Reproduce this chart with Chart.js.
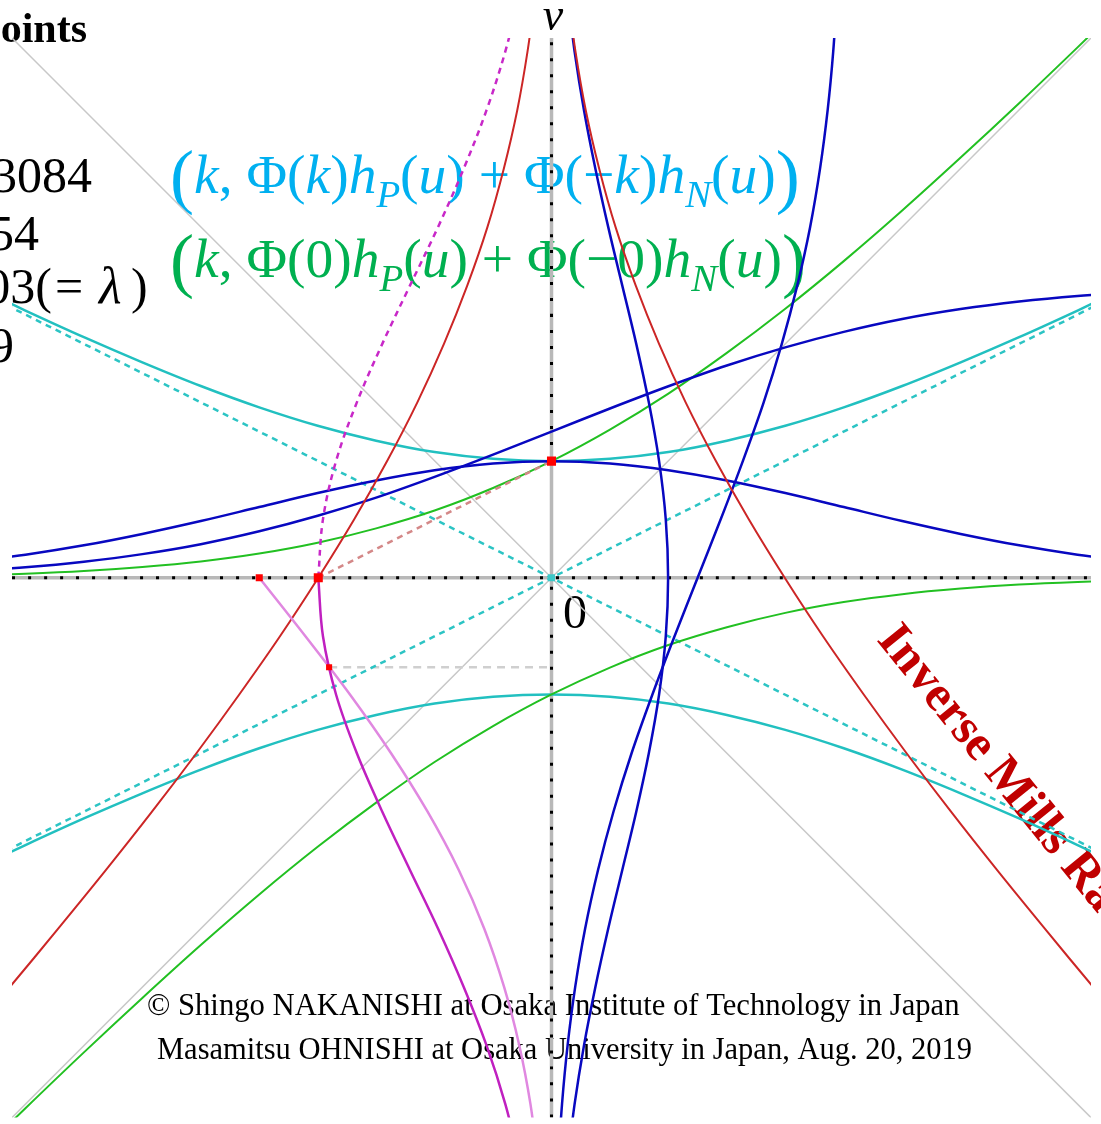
<!DOCTYPE html>
<html>
<head>
<meta charset="utf-8">
<script src="https://cdn.jsdelivr.net/npm/chart.js@4.4.0/dist/chart.umd.min.js"></script>
<style>
  html, body { margin: 0; padding: 0; background: #fff; }
  #wrap { width: 1101px; height: 1124px; }
</style>
</head>
<body>
<div id="wrap"><canvas id="chart" width="1101" height="1124"></canvas></div>
<script>
// sample positions (used as u for the flat curves, as v for the upright ones)
const uGrid = [-2.0, -1.8, -1.6, -1.4, -1.2, -1.0, -0.8, -0.6, -0.4, -0.2, 0, 0.2, 0.4, 0.6, 0.8, 1.0, 1.2, 1.4, 1.6, 1.8, 2.0];

// blue: density and distribution
const pdfVals = [0.054, 0.079, 0.111, 0.150, 0.194, 0.242, 0.290, 0.333, 0.368, 0.391, 0.399, 0.391, 0.368, 0.333, 0.290, 0.242, 0.194, 0.150, 0.111, 0.079, 0.054];
const cdfVals = [0.023, 0.036, 0.055, 0.081, 0.115, 0.159, 0.212, 0.274, 0.345, 0.421, 0.500, 0.579, 0.655, 0.726, 0.788, 0.841, 0.885, 0.919, 0.945, 0.964, 0.977];

// green: h_P(u) and h_N(u)
const hPosVals = [0.008, 0.014, 0.023, 0.037, 0.056, 0.083, 0.120, 0.169, 0.230, 0.307, 0.399, 0.507, 0.630, 0.769, 0.920, 1.083, 1.256, 1.437, 1.623, 1.814, 2.008];
const hNegVals = [-2.008, -1.814, -1.623, -1.437, -1.256, -1.083, -0.920, -0.769, -0.630, -0.507, -0.399, -0.307, -0.230, -0.169, -0.120, -0.083, -0.056, -0.037, -0.023, -0.014, -0.008];

// cyan: mixed curves above and below
const hMixUpper = [1.008, 0.914, 0.823, 0.737, 0.656, 0.583, 0.520, 0.469, 0.430, 0.407, 0.399, 0.407, 0.430, 0.469, 0.520, 0.583, 0.656, 0.737, 0.823, 0.914, 1.008];
const hMixLower = [-1.008, -0.914, -0.823, -0.737, -0.656, -0.583, -0.520, -0.469, -0.430, -0.407, -0.399, -0.407, -0.430, -0.469, -0.520, -0.583, -0.656, -0.737, -0.823, -0.914, -1.008];

// red: inverse Mills ratio, plotted sideways
const millsRight = [2.373, 2.197, 2.024, 1.854, 1.688, 1.525, 1.367, 1.215, 1.069, 0.929, 0.798, 0.675, 0.562, 0.459, 0.368, 0.288, 0.219, 0.163, 0.117, 0.082, 0.055];
const millsLeft = [-2.373, -2.197, -2.024, -1.854, -1.688, -1.525, -1.367, -1.215, -1.069, -0.929, -0.798, -0.675, -0.562, -0.459, -0.368, -0.288, -0.219, -0.163, -0.117, -0.082, -0.055];

// magenta (dashed above the u axis, solid below) and pink (below only)
const twoPdfLeft = [-0.108, -0.158, -0.222, -0.300, -0.388, -0.484, -0.579, -0.666, -0.737, -0.782, -0.798, -0.782, -0.737, -0.666, -0.579, -0.484, -0.388, -0.300, -0.222, -0.158, -0.108];
const twoCdfLeft = [-0.046, -0.072, -0.110, -0.162, -0.230, -0.317, -0.424, -0.549, -0.689, -0.842, -1.000];

// straight guides
const edgeU = [-2, 2];
const diagRise = [-2, 2];
const diagFall = [2, -2];
const asymRise = [-1, 1];
const asymFall = [1, -1];
const tangentU = [-0.798, 0];
const tangentV = [0, 0.399];
const guideU = [-0.761, 0];
const guideV = [-0.306, -0.306];
const axisLo = [-1.846, 0];
const axisHi = [0.399, 1.846];

// marked points
const markU = [-0.798, 0, -1.0, -0.761];
const markV = [0, 0.399, 0, -0.306];

const AX = 1.846;

function pts(xs, ys) {
  return xs.map((x, i) => ({ x: x, y: ys[i] }));
}

function curve(data, color, width, dash) {
  return {
    data: data,
    showLine: true,
    borderColor: color,
    borderWidth: width,
    borderDash: dash || [],
    pointRadius: 0,
    pointHoverRadius: 0,
    tension: 0.35,
    fill: false
  };
}

const negHalf = uGrid.slice(0, 11);
const posHalf = uGrid.slice(10);

// listed bottom to top
const datasets = [
  curve(pts(edgeU, diagRise), '#c8c8c8', 1.5),
  curve(pts(edgeU, diagFall), '#c8c8c8', 1.5),
  curve(pts([-AX, AX], [0, 0]), '#b8b8b8', 3.5),
  curve(pts([0, 0], [-AX, AX]), '#b8b8b8', 3.5),
  curve(pts([-AX, AX], [0, 0]), '#000000', 3, [3, 13]),
  curve(pts([0, 0], axisLo), '#000000', 3, [3, 13]),
  curve(pts([0, 0], axisHi), '#000000', 3, [3, 13]),
  curve(pts(guideU, guideV), '#cfcfcf', 2.5, [8, 6]),
  curve(pts(edgeU, asymRise), '#2cc4c4', 2.5, [6, 5]),
  curve(pts(edgeU, asymFall), '#2cc4c4', 2.5, [6, 5]),
  curve(pts(uGrid, hMixUpper), '#22c0c0', 2.5),
  curve(pts(uGrid, hMixLower), '#22c0c0', 2.5),
  curve(pts(uGrid, hPosVals), '#22c022', 2),
  curve(pts(uGrid, hNegVals), '#22c022', 2),
  curve(pts(tangentU, tangentV), '#d48888', 2.5, [6, 5]),
  curve(pts(uGrid, pdfVals), '#0808c0', 2.5),
  curve(pts(uGrid, cdfVals), '#0808c0', 2.5),
  curve(pts(pdfVals, uGrid), '#0808c0', 2.5),
  curve(pts(cdfVals, uGrid), '#0808c0', 2.5),
  curve(pts(millsLeft, uGrid), '#cc2626', 2),
  curve(pts(millsRight, uGrid), '#cc2626', 2),
  curve(pts(twoCdfLeft, negHalf), '#e088e0', 2.5),
  curve(pts(twoPdfLeft.slice(0, 11), negHalf), '#c020c0', 2.5),
  curve(pts(twoPdfLeft.slice(10), posHalf), '#c828c8', 2.5, [6, 5]),
  {
    data: pts([0], [0]),
    showLine: false,
    pointStyle: 'rect',
    pointRadius: 5,
    pointBackgroundColor: '#3cc8c8',
    pointBorderWidth: 0
  },
  {
    data: pts(markU, markV),
    showLine: false,
    pointStyle: 'rect',
    pointRadius: [6.4, 6.4, 5, 4.3],
    pointBackgroundColor: '#ff0000',
    pointBorderWidth: 0
  }
];
datasets.forEach((d, i) => { d.order = datasets.length - i; });

const SERIF = '"Liberation Serif", "Times New Roman", serif';

// mixed upright / italic / subscript runs, optionally stretched to a given width
function drawRich(ctx, parts, x, baseline, size, color, width) {
  const fontOf = (p, s) => {
    const st = p[1];
    const fs = st === 's' ? s * 0.7 : st === 'L' ? s * 1.3 : s;
    return (st === 'i' || st === 's' ? 'italic ' : '') + fs + 'px ' + SERIF;
  };
  const measure = s => parts.reduce((w, p) => {
    ctx.font = fontOf(p, s);
    return w + ctx.measureText(p[0]).width;
  }, 0);
  const fs = width ? size * width / measure(size) : size;
  let cx = x;
  ctx.fillStyle = color;
  ctx.textAlign = 'left';
  ctx.textBaseline = 'alphabetic';
  parts.forEach(p => {
    ctx.font = fontOf(p, fs);
    const dy = p[1] === 's' ? fs * 0.25 : p[1] === 'L' ? fs * 0.12 : 0;
    ctx.fillText(p[0], cx, baseline + dy);
    cx += ctx.measureText(p[0]).width;
  });
}

function fitText(ctx, text, x, baseline, size, weight, width) {
  ctx.font = weight + ' ' + size + 'px ' + SERIF;
  const fs = size * width / ctx.measureText(text).width;
  ctx.font = weight + ' ' + fs + 'px ' + SERIF;
  ctx.fillText(text, x, baseline);
}

const notes = {
  id: 'notes',
  beforeDatasetsDraw(chart) {
    const ctx = chart.ctx;
    ctx.save();
    ctx.textBaseline = 'alphabetic';

    // heading and values list, running off the left edge
    ctx.fillStyle = '#000';
    ctx.textAlign = 'right';
    ctx.font = 'bold 42px ' + SERIF;
    ctx.fillText('oints', 87, 42);
    ctx.font = '50px ' + SERIF;
    ctx.fillText('3084', 92, 192);
    ctx.fillText('54', 39, 250);
    ctx.fillText('9', 14, 362);
    ctx.fillText('03(', 52, 303);
    ctx.textAlign = 'left';
    ctx.fillText('=', 55, 303);
    ctx.fillText(')', 131, 303);
    ctx.font = 'italic 52px ' + SERIF;
    ctx.fillText('\u03bb', 99, 303);

    // axis names
    ctx.textAlign = 'center';
    ctx.font = 'italic 46px ' + SERIF;
    ctx.fillText('v', 553, 30);
    ctx.textAlign = 'left';
    ctx.font = '48px ' + SERIF;
    ctx.fillText('0', 563, 628);

    // curve captions
    drawRich(ctx, [['(', 'L'], ['k', 'i'], [', \u03a6(', ''], ['k', 'i'], [')', ''], ['h', 'i'], ['P', 's'],
      ['(', ''], ['u', 'i'], [') + \u03a6(\u2212', ''], ['k', 'i'], [')', ''], ['h', 'i'], ['N', 's'],
      ['(', ''], ['u', 'i'], [')', ''], [')', 'L']], 170, 193, 46, '#00b0f0', 630);
    drawRich(ctx, [['(', 'L'], ['k', 'i'], [', \u03a6(0)', ''], ['h', 'i'], ['P', 's'],
      ['(', ''], ['u', 'i'], [') + \u03a6(\u22120)', ''], ['h', 'i'], ['N', 's'],
      ['(', ''], ['u', 'i'], [')', ''], [')', 'L']], 170, 277, 46, '#00b050', 636);

    // slanted title on the right
    ctx.save();
    ctx.translate(876, 640);
    ctx.rotate(51 * Math.PI / 180);
    ctx.fillStyle = '#c00000';
    ctx.font = 'bold 50px ' + SERIF;
    ctx.fillText('Inverse Mills Ratio', 0, 0);
    ctx.restore();

    // credits
    ctx.fillStyle = '#000';
    fitText(ctx, '\u00a9 Shingo NAKANISHI at Osaka Institute of Technology in Japan', 147, 1015, 27, 'normal', 813);
    fitText(ctx, 'Masamitsu OHNISHI at Osaka University in Japan, Aug. 20, 2019', 157, 1059, 27, 'normal', 815);
    ctx.restore();
  }
};

new Chart(document.getElementById('chart'), {
  type: 'scatter',
  data: { datasets: datasets },
  options: {
    responsive: false,
    animation: false,
    devicePixelRatio: 1,
    layout: { padding: { left: 12, right: 10, top: 38, bottom: 6 } },
    plugins: { legend: { display: false }, tooltip: { enabled: false } },
    scales: {
      x: { type: 'linear', min: -AX, max: AX, display: false },
      y: { type: 'linear', min: -AX, max: AX, display: false }
    }
  },
  plugins: [notes]
});
</script>
</body>
</html>
